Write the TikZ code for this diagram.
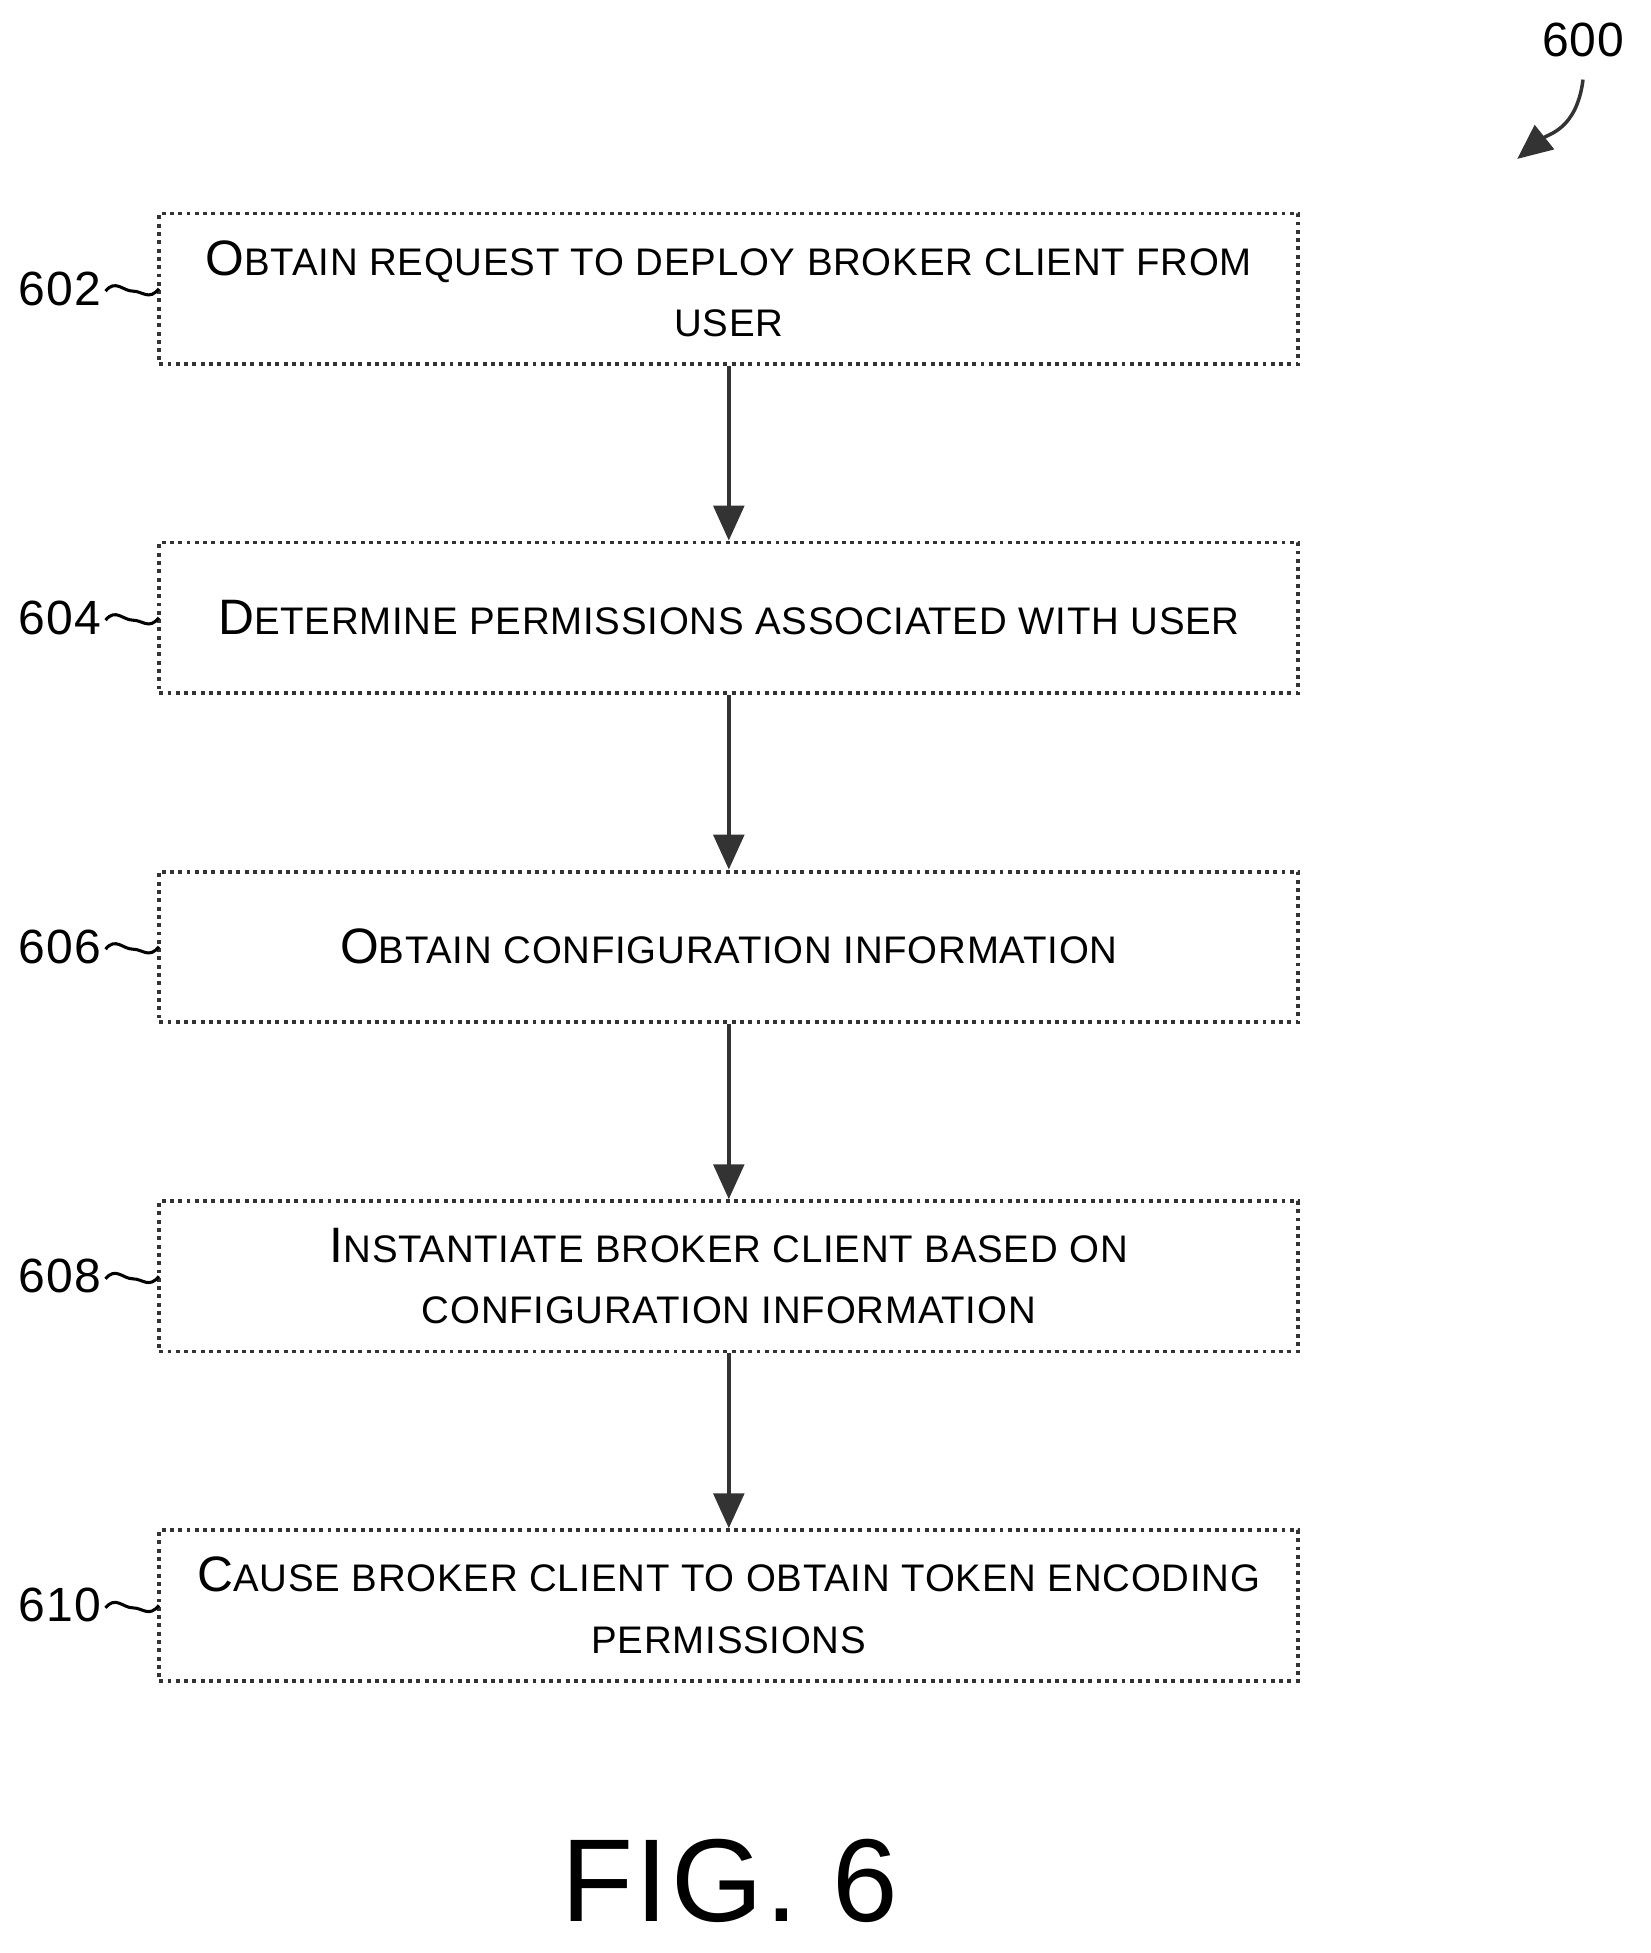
\documentclass[tikz,border=0pt]{standalone}
\usepackage{fontspec}
\setmainfont[LetterSpace=2]{Liberation Sans}
\usetikzlibrary{arrows.meta}
\newcommand{\fsc}[2]{{\fontsize{11.4}{14}\selectfont #1}{\fontsize{8.8}{14}\selectfont #2}}
\begin{document}
\begin{tikzpicture}[x=0.01cm,y=-0.01cm,
  box/.style={draw=black!80,line width=0.9pt,densely dotted,minimum width=9.17cm,minimum height=1.21cm,align=center,inner sep=0pt,font=\fontsize{8.8}{14}\selectfont},
  arr/.style={-{Triangle[length=8pt,width=7pt]},line width=0.9pt,draw=black!80},
  lbl/.style={font=\fontsize{11}{12}\selectfont,anchor=east,inner sep=0pt},
  sq/.style={line width=0.7pt}]
\useasboundingbox (0,0) rectangle (1329,1573);
\node[box] (b602) at (587,232.5) {\fsc{O}{BTAIN REQUEST TO DEPLOY BROKER CLIENT FROM}\\\fsc{}{USER}};
\node[box] (b604) at (587,497.5) {\fsc{D}{ETERMINE PERMISSIONS ASSOCIATED WITH USER}};
\node[box] (b606) at (587,762.5) {\fsc{O}{BTAIN CONFIGURATION INFORMATION}};
\node[box] (b608) at (587,1028) {\fsc{I}{NSTANTIATE BROKER CLIENT BASED ON}\\\fsc{}{CONFIGURATION INFORMATION}};
\node[box] (b610) at (587,1293) {\fsc{C}{AUSE BROKER CLIENT TO OBTAIN TOKEN ENCODING}\\\fsc{}{PERMISSIONS}};
\draw[arr] (b602) -- (b604);
\draw[arr] (b604) -- (b606);
\draw[arr] (b606) -- (b608);
\draw[arr] (b608) -- (b610);
\foreach \n/\y in {602/232.5,604/497.5,606/762.5,608/1028,610/1293}{
  \node[lbl] (l\n) at (82,\y) {\n};
  \coordinate (s\n) at (128,\y);
  \draw[sq] (l\n.east) ++(3,2) .. controls +(8,-10) and +(-8,0) .. +(22,0) .. controls +(8,0) and +(-8,10) .. (s\n);
}
\node[font=\fontsize{11}{12}\selectfont] (l600) at (1275,32) {600};
\coordinate (t600) at (1222,128);
\draw[arr,line width=0.8pt] (l600.south) ++(0,6) .. controls +(-5,40) and +(25,-20) .. (t600);
\node[font=\fontsize{27}{30}\selectfont] (fig) at (588,1515) {FIG. 6};
\end{tikzpicture}
\end{document}
